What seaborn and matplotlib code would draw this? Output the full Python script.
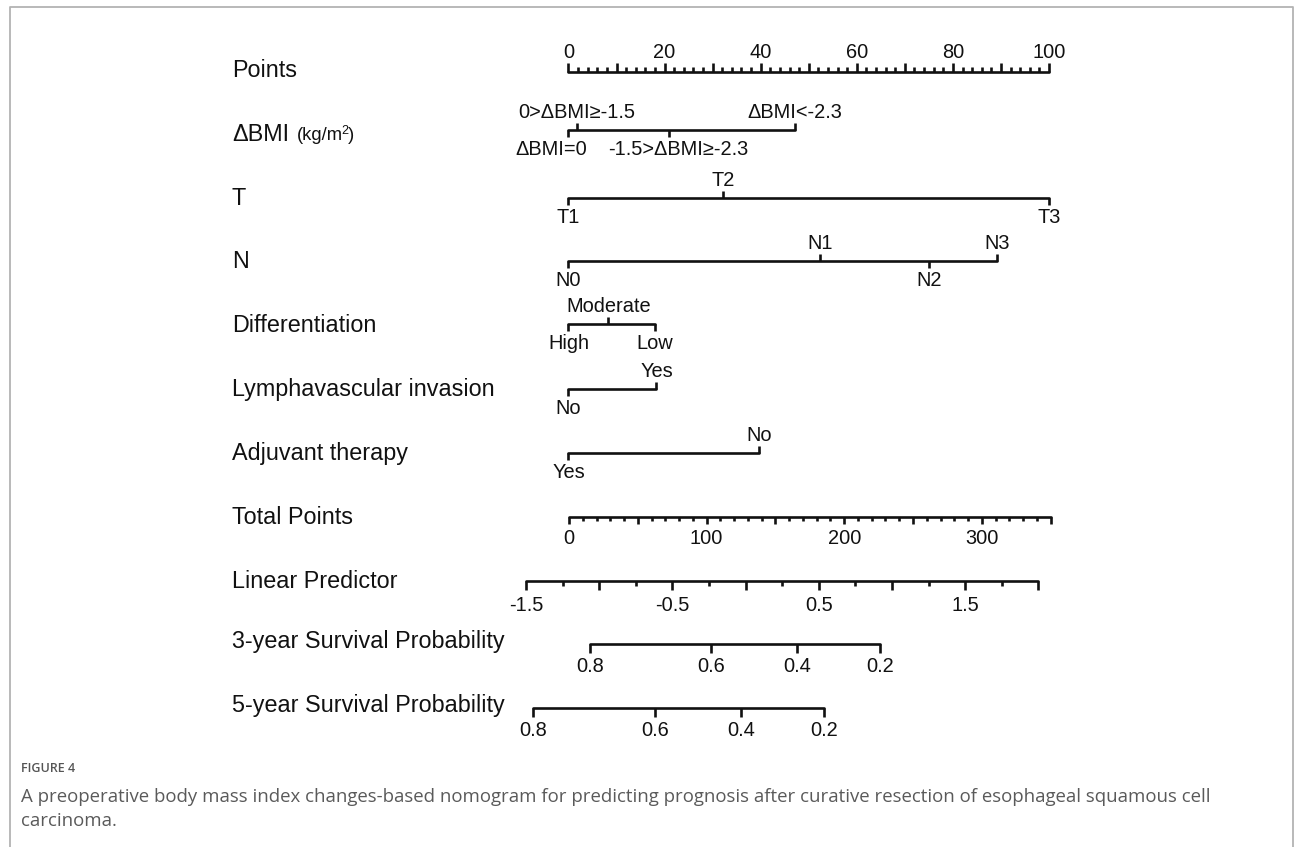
import numpy as np
import pandas as pd
import matplotlib
matplotlib.use("Agg")
import matplotlib.pyplot as plt
from matplotlib.lines import Line2D
import seaborn as sns

# ---------------- nomogram content ----------------
points_labels = [0, 20, 40, 60, 80, 100]

dbmi_levels = ["ΔBMI=0", "0>ΔBMI≥-1.5", "-1.5>ΔBMI≥-2.3", "ΔBMI<-2.3"]
dbmi_points = [0.0, 1.7, 21.0, 47.1]

t_levels = ["T1", "T2", "T3"]
t_points = [0.0, 32.1, 100.0]

n_levels = ["N0", "N1", "N2", "N3"]
n_points = [0.0, 52.4, 75.1, 89.1]

diff_levels = ["High", "Moderate", "Low"]
diff_points = [0.0, 8.3, 18.0]

lvi_levels = ["No", "Yes"]
lvi_points = [0.0, 18.3]

adj_levels = ["Yes", "No"]
adj_points = [0.0, 39.7]

total_labels = [0, 100, 200, 300]
total_max = 350

lp_labels = [-1.5, -0.5, 0.5, 1.5]
lp_min, lp_max = -1.5, 2.0

surv3_labels = ["0.8", "0.6", "0.4", "0.2"]
surv3_total = [15.3, 103.2, 165.5, 226.0]      # total points where each probability falls

surv5_labels = ["0.8", "0.6", "0.4", "0.2"]
surv5_total = [-25.9, 62.5, 124.8, 185.3]

# linear predictor <-> total points relation of the fitted model
LP_AT_ZERO_TOTAL = 128.4
TOTAL_PER_LP = 106.4

# ---------------- layout ----------------
W, H = 1295, 847
X0 = 568.5          # pixel column of 0 points
PX_PER_PT = 4.805   # pixels per point
TOT_TO_PT = 1.376 / PX_PER_PT
TOT_OFFSET = 0.5 / PX_PER_PT

ROW_LINE_Y = dict(points=72, dbmi=130, t=198, n=261, diff=324, lvi=389, adj=453,
                  total=517, lp=581, s3=644, s5=708)
ROW_TITLE_BASE = dict(points=77, dbmi=141, t=205, n=268, diff=332, lvi=396, adj=460,
                      total=524, lp=588, s3=648, s5=712)
LABEL_X_PX = 232

ROW_FONT = 16.8
TICK_FONT = 14.4
LW = 1.9
TEXT_FAMILY = ["Liberation Sans", "DejaVu Sans"]
INK = "#111111"


def fx(px):
    return (px - X0) / PX_PER_PT


def tot_x(t):
    return np.asarray(t, dtype=float) * TOT_TO_PT + TOT_OFFSET


def lp_x(lp):
    return tot_x(LP_AT_ZERO_TOTAL + TOTAL_PER_LP * np.asarray(lp, dtype=float))


sns.set_theme(style="white")
plt.rcParams["font.family"] = TEXT_FAMILY

fig = plt.figure(figsize=(W / 100, H / 100), dpi=100)
ax = fig.add_axes([0, 0, 1, 1])

# ---------------- horizontal scale lines ----------------
segments = []


def add_seg(name, x_a, x_b, y):
    segments.append(dict(seg=name, x=x_a, y=y))
    segments.append(dict(seg=name, x=x_b, y=y))


add_seg("points", 0, 100, ROW_LINE_Y["points"])
for key, pts in [("dbmi", dbmi_points), ("t", t_points), ("n", n_points),
                 ("diff", diff_points), ("lvi", lvi_points), ("adj", adj_points)]:
    add_seg(key, min(pts), max(pts), ROW_LINE_Y[key])
add_seg("total", tot_x(0), tot_x(total_max), ROW_LINE_Y["total"])
add_seg("lp", lp_x(lp_min), lp_x(lp_max), ROW_LINE_Y["lp"])
add_seg("s3", tot_x(min(surv3_total)), tot_x(max(surv3_total)), ROW_LINE_Y["s3"])
add_seg("s5", tot_x(min(surv5_total)), tot_x(max(surv5_total)), ROW_LINE_Y["s5"])

seg_df = pd.DataFrame(segments)
sns.lineplot(data=seg_df, x="x", y="y", units="seg", estimator=None, sort=False,
             color=INK, linewidth=LW, ax=ax, legend=False)


def ticks(xs, y, length):
    # positive length goes downward (pixel y grows downward)
    ax.vlines(xs, y, y + length, color=INK, linewidth=LW)


def tick_text(x, y, s, size=TICK_FONT):
    ax.text(x, y, s, ha="center", va="baseline", fontsize=size, color=INK)


# Points scale: ticks point up, labels above
yp = ROW_LINE_Y["points"]
ticks(np.arange(0, 101, 10), yp, -9)
ticks([v for v in np.arange(0, 101, 2) if v % 10], yp, -4.5)
for v in points_labels:
    tick_text(v, yp - 13.5, str(v))

# Categorical predictors: labels alternate below / above the line
DBMI_LABEL_SHIFT = {0: -17, 2: 9}
for key, levels, pts in [("dbmi", dbmi_levels, dbmi_points), ("t", t_levels, t_points),
                         ("n", n_levels, n_points), ("diff", diff_levels, diff_points),
                         ("lvi", lvi_levels, lvi_points), ("adj", adj_levels, adj_points)]:
    y = ROW_LINE_Y[key]
    for i, (lab, p) in enumerate(zip(levels, pts)):
        shift = DBMI_LABEL_SHIFT.get(i, 0) / PX_PER_PT if key == "dbmi" else 0
        if i % 2 == 0:
            ticks([p], y, 7)
            tick_text(p + shift, y + 25, lab)
        else:
            ticks([p], y, -7)
            tick_text(p + shift, y - 12, lab)

# Total points
yt = ROW_LINE_Y["total"]
ticks(tot_x(np.arange(0, total_max + 1, 50)), yt, 7.5)
ticks(tot_x([v for v in np.arange(0, total_max + 1, 10) if v % 50]), yt, 4)
for v in total_labels:
    tick_text(tot_x(v), yt + 26.5, str(v))

# Linear predictor
yl = ROW_LINE_Y["lp"]
ticks(lp_x(np.arange(lp_min, lp_max + 0.01, 0.5)), yl, 9)
ticks(lp_x(np.arange(lp_min + 0.25, lp_max, 0.5)), yl, 5)
for v in lp_labels:
    tick_text(lp_x(v), yl + 30, f"{v:g}")

# Survival probabilities
for key, labs, tots in [("s3", surv3_labels, surv3_total), ("s5", surv5_labels, surv5_total)]:
    y = ROW_LINE_Y[key]
    ticks(tot_x(tots), y, 9)
    for lab, t in zip(labs, tots):
        tick_text(tot_x(t), y + 27.5, lab)

# Row titles
row_titles = dict(points="Points", t="T", n="N", diff="Differentiation",
                  lvi="Lymphavascular invasion", adj="Adjuvant therapy",
                  total="Total Points", lp="Linear Predictor",
                  s3="3-year Survival Probability", s5="5-year Survival Probability")
for key, title in row_titles.items():
    ax.text(fx(LABEL_X_PX), ROW_TITLE_BASE[key], title, ha="left", va="baseline",
            fontsize=ROW_FONT, color=INK)
ax.text(fx(LABEL_X_PX), ROW_TITLE_BASE["dbmi"], "ΔBMI", ha="left", va="baseline",
        fontsize=ROW_FONT, color=INK)
ax.text(fx(297), ROW_TITLE_BASE["dbmi"] - 1, "(kg/m", ha="left", va="baseline",
        fontsize=13.2, color=INK)
ax.text(fx(341.5), ROW_TITLE_BASE["dbmi"] - 7, "2", ha="left", va="baseline",
        fontsize=9, color=INK)
ax.text(fx(347.5), ROW_TITLE_BASE["dbmi"] - 1, ")", ha="left", va="baseline",
        fontsize=13.2, color=INK)

ax.set_xlim(fx(0), fx(W))
ax.set_ylim(H, 0)
ax.set_axis_off()

# ---------------- frame and caption ----------------
def fig_xy(px, py):
    return px / W, 1 - py / H


bx, by = zip(*[fig_xy(9.5, H), fig_xy(9.5, 7.5), fig_xy(1292.5, 7.5), fig_xy(1292.5, H)])
fig.add_artist(Line2D(bx, by, color="#b3b3b3", linewidth=1.3))

cap_font = ["Open Sans", "DejaVu Sans"]
fig.text(*fig_xy(21, 768), "FIGURE 4", ha="left", va="center", fontsize=9,
         color="#555555", family=cap_font, fontweight="semibold")
fig.text(*fig_xy(21, 797), "A preoperative body mass index changes-based nomogram for predicting "
         "prognosis after curative resection of esophageal squamous cell",
         ha="left", va="center", fontsize=13.4, color="#5a5a5a", family=cap_font)
fig.text(*fig_xy(21, 821), "carcinoma.", ha="left", va="center", fontsize=13.4,
         color="#5a5a5a", family=cap_font)

fig.savefig("out.png", dpi=100, facecolor="white")
